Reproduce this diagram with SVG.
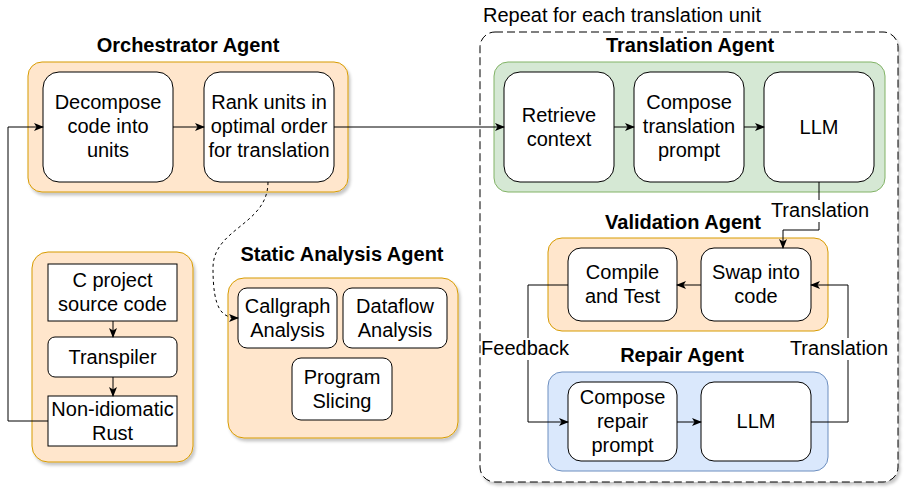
<svg xmlns="http://www.w3.org/2000/svg" width="904" height="489" viewBox="0 0 904 489">
<style>
text{font-family:"Liberation Sans",Arial,Helvetica,sans-serif;font-size:20px;fill:#000;text-anchor:middle}
.t{font-weight:bold}
.box{fill:#fff;stroke:#000;stroke-width:1}
.orange{fill:#ffe6cc;stroke:#d79b00;stroke-width:1}
.green{fill:#d5e8d4;stroke:#82b366;stroke-width:1}
.blue{fill:#dae8fc;stroke:#6c8ebf;stroke-width:1}
.edge{fill:none;stroke:#000;stroke-width:1}
.lbl{fill:#fff;stroke:none}
</style>
<defs>
<filter id="sh" x="-10%" y="-10%" width="120%" height="130%">
<feDropShadow dx="2" dy="3" stdDeviation="1.5" flood-color="#000" flood-opacity="0.22"/>
</filter>
<marker id="arr" viewBox="0 0 10 10" refX="9" refY="5" markerWidth="10" markerHeight="10" markerUnits="userSpaceOnUse" orient="auto">
<path d="M0,1 L10,5 L0,9 L2.5,5 Z" fill="#000"/>
</marker>
</defs>

<g id="repeat-container">
<rect x="480" y="32" width="418" height="450" rx="15" fill="#fff" stroke="#000" stroke-dasharray="8 4" filter="url(#sh)"/>
<text x="483" y="22" style="text-anchor:start">Repeat for each translation unit</text>
</g>

<g id="orchestrator">
<text class="t" x="188" y="52">Orchestrator Agent</text>
<rect class="orange" x="28" y="62" width="320" height="130" rx="14" filter="url(#sh)"/>
</g>
<g id="decompose">
<rect class="box" x="43" y="72" width="130" height="110" rx="16"/>
<text x="108" y="109">Decompose</text><text x="108" y="133">code into</text><text x="108" y="157">units</text>
</g>
<g id="rank">
<rect class="box" x="204" y="72" width="130" height="110" rx="16"/>
<text x="269" y="109">Rank units in</text><text x="269" y="133">optimal order</text><text x="269" y="157">for translation</text>
</g>

<g id="source-container">
<rect class="orange" x="32" y="252" width="161" height="210" rx="16" filter="url(#sh)"/>
</g>
<g id="c-project">
<rect class="box" x="48" y="264" width="129" height="57"/>
<text x="112.5" y="287">C project</text><text x="112.5" y="311">source code</text>
</g>
<g id="transpiler">
<rect class="box" x="48" y="337" width="129" height="40" rx="7"/>
<text x="112.5" y="363.5">Transpiler</text>
</g>
<g id="non-idiomatic">
<rect class="box" x="48" y="396" width="129" height="50"/>
<text x="112.5" y="415.5">Non-idiomatic</text><text x="112.5" y="439.5">Rust</text>
</g>

<g id="static-analysis">
<text class="t" x="342" y="261">Static Analysis Agent</text>
<rect class="orange" x="228" y="278" width="230" height="160" rx="16" filter="url(#sh)"/>
</g>
<g id="callgraph">
<rect class="box" x="238" y="288" width="99" height="60" rx="9"/>
<text x="287.5" y="312.5">Callgraph</text><text x="287.5" y="336.5">Analysis</text>
</g>
<g id="dataflow">
<rect class="box" x="343" y="288" width="104" height="60" rx="9"/>
<text x="395" y="312.5">Dataflow</text><text x="395" y="336.5">Analysis</text>
</g>
<g id="slicing">
<rect class="box" x="292" y="358" width="100" height="62" rx="9"/>
<text x="342" y="383.5">Program</text><text x="342" y="407.5">Slicing</text>
</g>

<g id="translation-agent">
<text class="t" x="690" y="52">Translation Agent</text>
<rect class="green" x="494" y="62" width="391" height="130" rx="14"/>
</g>
<g id="retrieve">
<rect class="box" x="504" y="72" width="110" height="110" rx="16"/>
<text x="559" y="121.5">Retrieve</text><text x="559" y="145.5">context</text>
</g>
<g id="compose-translation">
<rect class="box" x="634" y="72" width="110" height="110" rx="16"/>
<text x="689" y="109">Compose</text><text x="689" y="133">translation</text><text x="689" y="157">prompt</text>
</g>
<g id="llm-translation">
<rect class="box" x="764" y="72" width="110" height="110" rx="16"/>
<text x="819" y="133.5">LLM</text>
</g>

<g id="validation-agent">
<text class="t" x="683" y="229">Validation Agent</text>
<rect class="orange" x="548" y="238" width="280" height="93" rx="14"/>
</g>
<g id="compile">
<rect class="box" x="568" y="248" width="109" height="73" rx="13"/>
<text x="622.5" y="279">Compile</text><text x="622.5" y="303">and Test</text>
</g>
<g id="swap">
<rect class="box" x="701" y="248" width="110" height="73" rx="13"/>
<text x="756" y="279">Swap into</text><text x="756" y="303">code</text>
</g>

<g id="repair-agent">
<text class="t" x="682" y="362">Repair Agent</text>
<rect class="blue" x="548" y="372" width="280" height="99" rx="14"/>
</g>
<g id="compose-repair">
<rect class="box" x="568" y="382" width="109" height="79" rx="13"/>
<text x="622.5" y="403.5">Compose</text><text x="622.5" y="427.5">repair</text><text x="622.5" y="451.5">prompt</text>
</g>
<g id="llm-repair">
<rect class="box" x="701" y="382" width="110" height="79" rx="13"/>
<text x="756" y="428">LLM</text>
</g>

<g id="connectors">
<path class="edge" d="M173,127 L204,127" marker-end="url(#arr)"/>
<path class="edge" d="M48,421 L8,421 L8,127 L43,127" marker-end="url(#arr)"/>
<path class="edge" d="M113,321 L113,337" marker-end="url(#arr)"/>
<path class="edge" d="M113,377 L113,396" marker-end="url(#arr)"/>
<path class="edge" d="M268,182 C268,225 213,228 213,268 C213,310 222,318 238,318" stroke-dasharray="3 3" stroke="#333" marker-end="url(#arr)"/>
<path class="edge" d="M334,127 L504,127" marker-end="url(#arr)"/>
<path class="edge" d="M614,127 L634,127" marker-end="url(#arr)"/>
<path class="edge" d="M744,127 L764,127" marker-end="url(#arr)"/>
<path class="edge" d="M819,182 L819,230 L783,230 L783,248" marker-end="url(#arr)"/>
<path class="edge" d="M701,285 L677,285" marker-end="url(#arr)"/>
<path class="edge" d="M568,285 L528,285 L528,422 L568,422" marker-end="url(#arr)"/>
<path class="edge" d="M677,422 L701,422" marker-end="url(#arr)"/>
<path class="edge" d="M811,422 L848,422 L848,285 L811,285" marker-end="url(#arr)"/>
<rect class="lbl" x="771" y="200" width="98" height="22"/>
<text x="820" y="217">Translation</text>
<rect class="lbl" x="482" y="338" width="88" height="22"/>
<text x="525" y="355">Feedback</text>
<rect class="lbl" x="790" y="338" width="98" height="22"/>
<text x="839" y="355">Translation</text>
</g>
</svg>
